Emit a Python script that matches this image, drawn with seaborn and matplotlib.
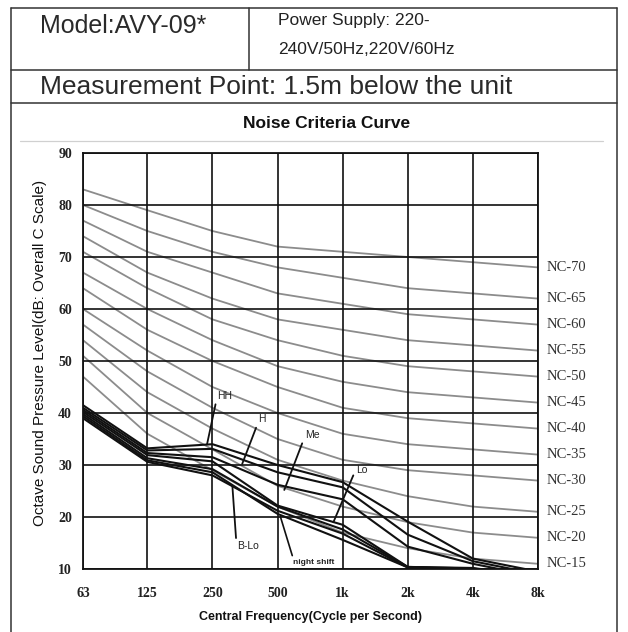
import numpy as np
import pandas as pd
import matplotlib
matplotlib.use("Agg")
import matplotlib.pyplot as plt
import seaborn as sns
from matplotlib.lines import Line2D

# ---------------- data ----------------
freqs = [63, 125, 250, 500, 1000, 2000, 4000, 8000]
freq_labels = ["63", "125", "250", "500", "1k", "2k", "4k", "8k"]
y_ticks = [10, 20, 30, 40, 50, 60, 70, 80, 90]

nc_names = ["NC-15", "NC-20", "NC-25", "NC-30", "NC-35", "NC-40",
            "NC-45", "NC-50", "NC-55", "NC-60", "NC-65", "NC-70"]
nc15 = [47, 36, 29, 22, 17, 14, 12, 11]
nc20 = [51, 40, 33, 26, 22, 19, 17, 16]
nc25 = [54, 44, 37, 31, 27, 24, 22, 21]
nc30 = [57, 48, 41, 35, 31, 29, 28, 27]
nc35 = [60, 52, 45, 40, 36, 34, 33, 32]
nc40 = [64, 56, 50, 45, 41, 39, 38, 37]
nc45 = [67, 60, 54, 49, 46, 44, 43, 42]
nc50 = [71, 64, 58, 54, 51, 49, 48, 47]
nc55 = [74, 67, 62, 58, 56, 54, 53, 52]
nc60 = [77, 71, 67, 63, 61, 59, 58, 57]
nc65 = [80, 75, 71, 68, 66, 64, 63, 62]
nc70 = [83, 79, 75, 72, 71, 70, 69, 68]
nc_values = [nc15, nc20, nc25, nc30, nc35, nc40, nc45, nc50, nc55, nc60, nc65, nc70]

unit_names = ["HH", "H", "Me", "Lo", "B-Lo", "night shift", "extra"]
spl_hh    = [41.5, 33.2, 34.0, 30.0, 26.7, 19.1, 12.0, 9.5]
spl_h     = [41.0, 32.8, 33.1, 28.6, 25.7, 16.6, 11.5, 9.0]
spl_me    = [40.6, 32.3, 31.5, 26.2, 23.4, 14.3, 11.0, 8.5]
spl_lo    = [40.2, 31.9, 30.7, 22.2, 18.5, 10.4, 10.2, 8.5]
spl_blo   = [39.8, 31.3, 29.2, 22.0, 17.6, 10.4, 10.1, 8.5]
spl_night = [39.4, 30.9, 28.6, 20.6, 15.6, 10.3, 10.0, 8.5]
spl_extra = [39.0, 30.6, 28.0, 21.2, 16.8, 10.3, 10.0, 8.5]
unit_values = [spl_hh, spl_h, spl_me, spl_lo, spl_blo, spl_night, spl_extra]

# label annotations
ann_labels = ["HH", "H", "Me", "Lo", "B-Lo"]
ann_xy = [(236, 34.0), (343, 30.2), (537, 25.2), (906, 19.0), (309, 26.0)]
ann_text = [(262, 42.3), (405, 37.8), (672, 34.8), (1160, 28.0), (326, 13.4)]
ann_angle = [78, 69, 69, 67, -86]

# ---------------- frame ----------------
sns.set_theme(style="white")
plt.rcParams['font.family'] = ['Liberation Sans', 'DejaVu Sans']
narrow = ['Liberation Sans Narrow', 'Liberation Sans', 'DejaVu Sans']
serif = ['Liberation Serif', 'DejaVu Serif']

W, H = 628, 632
fig = plt.figure(figsize=(W / 100, H / 100), dpi=100)

def fx(x):
    return x / W

def fy(y):
    return 1 - y / H

def hline(y, x0, x1, color="#333333", lw=1.1):
    fig.add_artist(Line2D([fx(x0), fx(x1)], [fy(y), fy(y)], color=color, lw=lw,
                          transform=fig.transFigure))

def vline(x, y0, y1, color="#333333", lw=1.1):
    fig.add_artist(Line2D([fx(x), fx(x)], [fy(y0), fy(y1)], color=color, lw=lw,
                          transform=fig.transFigure))

hline(8, 11, 617)
hline(70, 11, 617)
hline(103, 11, 617)
vline(11, 8, 632)
vline(617, 8, 632)
vline(249, 8, 70)
hline(141, 20, 603, color="#d0d0d0", lw=0.9)

fig.text(fx(40), fy(26), "Model:AVY-09*", fontsize=18, va="center", ha="left", color="#2a2a2a")
fig.text(fx(278), fy(21), "Power Supply: 220-", fontsize=12.5, va="center", ha="left", color="#222222")
fig.text(fx(278), fy(50), "240V/50Hz,220V/60Hz", fontsize=12.5, va="center", ha="left", color="#222222")
fig.text(fx(40), fy(87), "Measurement Point: 1.5m below the unit", fontsize=19, va="center",
         ha="left", color="#2a2a2a")
fig.text(fx(327), fy(124), "Noise Criteria Curve", fontsize=12.5, fontweight="bold",
         family=narrow, va="center", ha="center", color="#111111")

# ---------------- chart ----------------
ax = fig.add_axes([fx(83), fy(569), fx(538) - fx(83), fy(153) - fy(569)])
ax.set_xscale("log", base=2)

nc_df = pd.DataFrame({
    "freq": np.tile(freqs, len(nc_names)),
    "spl": np.concatenate(nc_values),
    "curve": np.repeat(nc_names, len(freqs)),
})
unit_df = pd.DataFrame({
    "freq": np.tile(freqs, len(unit_names)),
    "spl": np.concatenate(unit_values),
    "curve": np.repeat(unit_names, len(freqs)),
})

sns.lineplot(data=nc_df, x="freq", y="spl", units="curve", estimator=None, sort=False,
             color="#8c8c8c", lw=1.3, ax=ax, legend=False, zorder=1)
sns.lineplot(data=unit_df, x="freq", y="spl", units="curve", estimator=None, sort=False,
             color="#111111", lw=1.5, ax=ax, legend=False, zorder=4)

ax.set_xlim(63, 8000)
ax.set_ylim(10, 90)
ax.set_xticks(freqs)
ax.set_xticklabels(freq_labels)
ax.set_yticks(y_ticks)
ax.minorticks_off()
ax.set_axisbelow(False)
ax.grid(True, color="#111111", lw=1.2)
for sp in ax.spines.values():
    sp.set_color("#111111")
    sp.set_linewidth(1.3)
ax.tick_params(length=0, labelsize=10, colors="#222222")
ax.tick_params(axis="x", pad=13)
ax.tick_params(axis="y", pad=8)
for t in ax.get_xticklabels() + ax.get_yticklabels():
    t.set_family(serif)
    t.set_fontweight("bold")

ax.set_xlabel("Central Frequency(Cycle per Second)", fontsize=9, fontweight="bold",
              family=narrow, color="#111111")
ax.xaxis.set_label_coords(0.5, -0.1)
ax.set_ylabel("Octave Sound Pressure Level(dB: Overall C Scale)", fontsize=11,
              family=narrow, color="#111111")
ax.yaxis.set_label_coords(-0.08, 0.52)

# NC labels at right end of each curve
for name, vals in zip(nc_names, nc_values):
    ax.annotate(name, xy=(freqs[-1], vals[-1]), xytext=(6, 0), textcoords="offset points",
                va="center", ha="left", fontsize=10.5, family=serif, color="#333333",
                annotation_clip=False)

# line labels with underline + leader
for lab, xy, xt, ang in zip(ann_labels, ann_xy, ann_text, ann_angle):
    ax.annotate(lab, xy=xy, xytext=xt, textcoords="data", ha="left", va="bottom",
                fontsize=7.5, family=narrow, color="#222222", zorder=6,
                arrowprops=dict(arrowstyle="-", lw=1.3, color="#111111",
                                connectionstyle=f"angle,angleA=0,angleB={ang},rad=0",
                                relpos=(1, 0), shrinkA=0, shrinkB=0))
ax.annotate("night shift", xy=(515, 20.1), xytext=(591, 10.6), textcoords="data",
            ha="left", va="bottom", fontsize=6, fontweight="bold", family=narrow,
            color="#222222", zorder=6,
            arrowprops=dict(arrowstyle="-", lw=1.2, color="#111111", relpos=(0, 1),
                            shrinkA=0, shrinkB=0))

fig.savefig("out.png", dpi=100)
